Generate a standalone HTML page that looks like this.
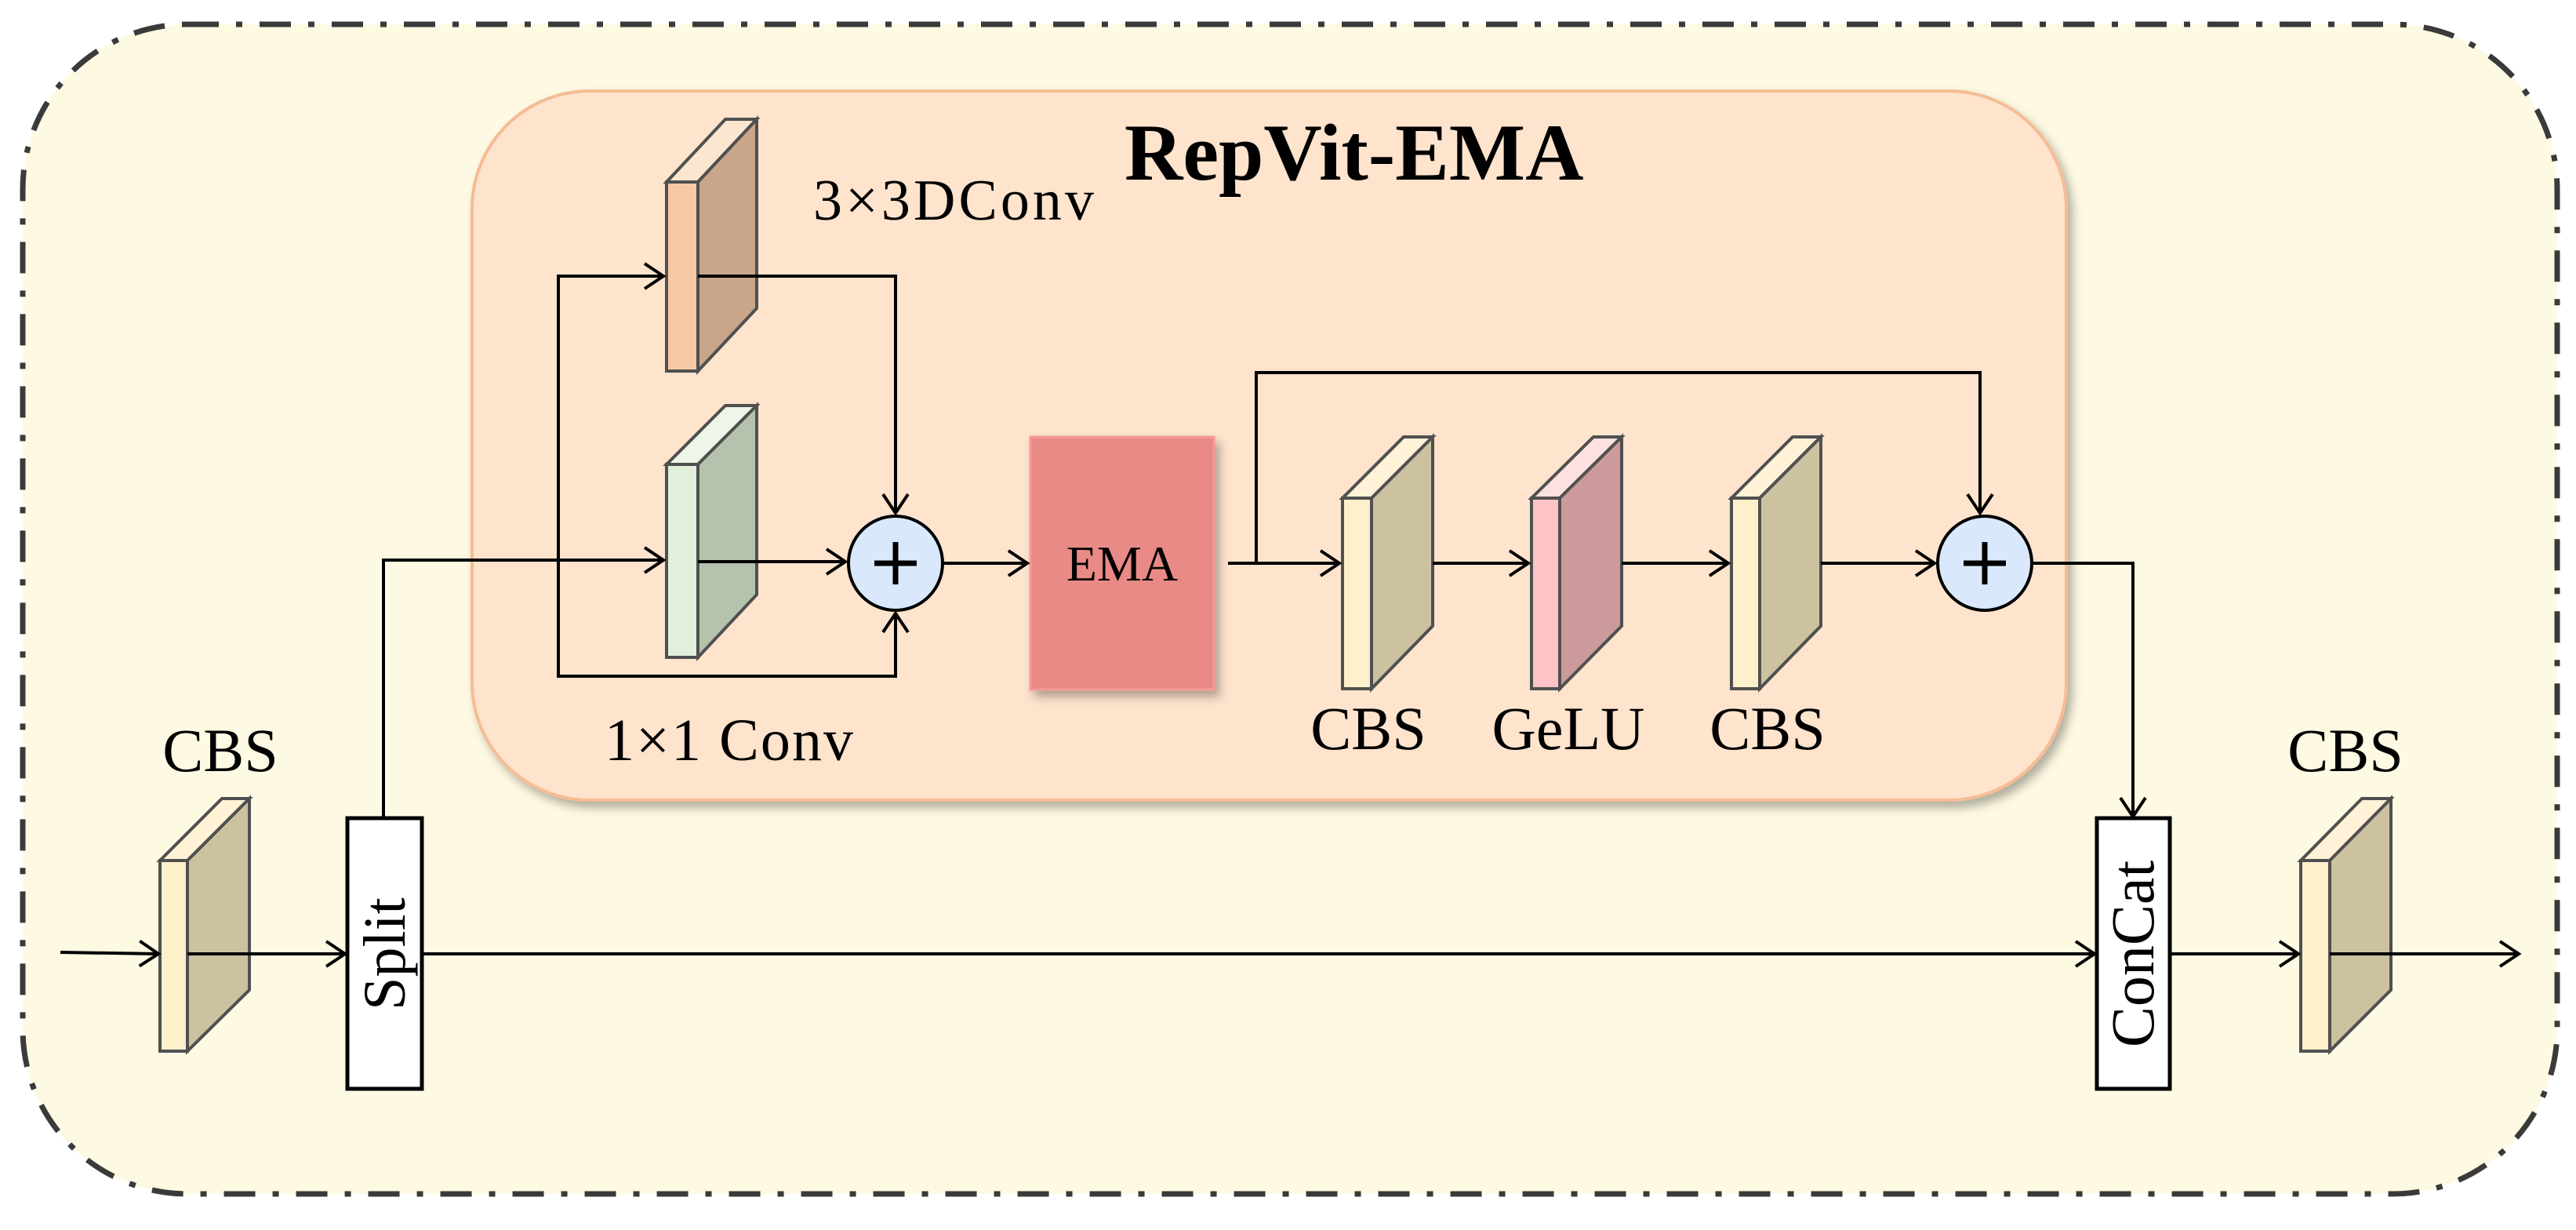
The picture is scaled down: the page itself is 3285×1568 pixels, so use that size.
<!DOCTYPE html>
<html><head><meta charset="utf-8"><style>
html,body{margin:0;padding:0;background:#fff;}
svg{display:block;}
text{font-family:"Liberation Serif",serif;fill:#000;}
</style></head><body>
<svg width="3285" height="1568" viewBox="0 0 3285 1568" xmlns="http://www.w3.org/2000/svg">
<defs>
<marker id="a" markerWidth="40" markerHeight="40" refX="30" refY="20" orient="auto" markerUnits="userSpaceOnUse">
<path d="M6,4 L30,20 L6,36" fill="none" stroke="#000" stroke-width="4"/>
</marker>
<filter id="sh" x="-10%" y="-10%" width="130%" height="130%"><feDropShadow dx="6" dy="8" stdDeviation="6" flood-color="#000" flood-opacity="0.3"/></filter>
</defs>
<rect x="0" y="0" width="3285" height="1568" fill="#fff"/>
<rect x="29" y="31" width="3232" height="1491" rx="210" ry="210" fill="#fef9e2" stroke="#3a3a3a" stroke-width="7" stroke-dasharray="40,22,8,22"/>
<rect x="602" y="116" width="2033" height="904" rx="150" ry="150" fill="#fee3cd" stroke="#f6bc94" stroke-width="4" filter="url(#sh)"/>
<text x="1434" y="229" font-size="103" font-weight="bold">RepVit-EMA</text>

<g stroke="#505050" stroke-width="4" stroke-linejoin="miter">
<polygon points="850,232 890,232 965,152 925,152" fill="#fbe6cf"/>
<polygon points="890,232 965,152 965,393 890,473" fill="#c9a58a"/>
<rect x="850" y="232" width="40" height="241" fill="#f8c9a5"/>
<polygon points="850,592 890,592 965,517 925,517" fill="#eef6ea"/>
<polygon points="890,592 965,517 965,758 890,838" fill="#b5c3ad"/>
<rect x="850" y="592" width="40" height="246" fill="#e1efdb"/>
<polygon points="1712,635 1749,635 1827,557 1790,557" fill="#fff2d6"/>
<polygon points="1749,635 1827,557 1827,798 1749,878" fill="#cdc2a0"/>
<rect x="1712" y="635" width="37" height="243" fill="#fff0cc"/>
<polygon points="1953,635 1989,635 2068,557 2032,557" fill="#fde0e0"/>
<polygon points="1989,635 2068,557 2068,798 1989,878" fill="#cc9a9a"/>
<rect x="1953" y="635" width="36" height="243" fill="#fcc4c4"/>
<polygon points="2208,635 2244,635 2322,557 2286,557" fill="#fff2d6"/>
<polygon points="2244,635 2322,557 2322,798 2244,878" fill="#cdc2a0"/>
<rect x="2208" y="635" width="36" height="243" fill="#fff0cc"/>
<polygon points="204,1097 239,1097 318,1018 283,1018" fill="#fff2d6"/>
<polygon points="239,1097 318,1018 318,1262 239,1340" fill="#cdc2a0"/>
<rect x="204" y="1097" width="35" height="243" fill="#fff0cc"/>
<polygon points="2934,1097 2971,1097 3049,1018 3012,1018" fill="#fff2d6"/>
<polygon points="2971,1097 3049,1018 3049,1262 2971,1340" fill="#cdc2a0"/>
<rect x="2934" y="1097" width="37" height="243" fill="#fff0cc"/>
</g>

<rect x="1314" y="557" width="234" height="322" fill="#e98a86" stroke="#f59a98" stroke-width="3" filter="url(#sh)"/>
<text x="1431" y="740" font-size="64" text-anchor="middle">EMA</text>

<g fill="none" stroke="#000" stroke-width="4">
<polyline points="489,1043 489,714 846,714" marker-end="url(#a)"/>
<polyline points="712,714 712,352 846,352" marker-end="url(#a)"/>
<polyline points="712,714 712,862 1142,862 1142,782" marker-end="url(#a)"/>
<polyline points="890,352 1142,352 1142,654" marker-end="url(#a)"/>
<line x1="890" y1="716" x2="1078" y2="716" marker-end="url(#a)"/>
<line x1="1204" y1="718" x2="1310" y2="718" marker-end="url(#a)"/>
<line x1="1566" y1="718" x2="1708" y2="718" marker-end="url(#a)"/>
<polyline points="1602,718 1602,475 2525,475 2525,654" marker-end="url(#a)"/>
<line x1="1827" y1="718" x2="1949" y2="718" marker-end="url(#a)"/>
<line x1="2068" y1="718" x2="2204" y2="718" marker-end="url(#a)"/>
<line x1="2322" y1="718" x2="2467" y2="718" marker-end="url(#a)"/>
<polyline points="2591,718 2720,718 2720,1041" marker-end="url(#a)"/>
<line x1="77" y1="1214" x2="202" y2="1216" marker-end="url(#a)"/>
<line x1="239" y1="1216" x2="440" y2="1216" marker-end="url(#a)"/>
<line x1="538" y1="1216" x2="2671" y2="1216" marker-end="url(#a)"/>
<line x1="2767" y1="1216" x2="2931" y2="1216" marker-end="url(#a)"/>
<line x1="2971" y1="1216" x2="3212" y2="1216" marker-end="url(#a)"/>
</g>

<g stroke="#000" stroke-width="4">
<circle cx="1142" cy="718" r="60" fill="#dae8fc"/>
<circle cx="2531" cy="718" r="60" fill="#dae8fc"/>
<line x1="1115" y1="718" x2="1169" y2="718" stroke-width="7"/>
<line x1="1142" y1="691" x2="1142" y2="745" stroke-width="7"/>
<line x1="2504" y1="718" x2="2558" y2="718" stroke-width="7"/>
<line x1="2531" y1="691" x2="2531" y2="745" stroke-width="7"/>
</g>

<rect x="443" y="1043" width="95" height="345" fill="#fff" stroke="#000" stroke-width="5"/>
<rect x="2674" y="1043" width="93" height="345" fill="#fff" stroke="#000" stroke-width="5"/>
<text transform="translate(516,1216) rotate(-90)" font-size="76" text-anchor="middle">Split</text>
<text transform="translate(2746,1216) rotate(-90)" font-size="78" text-anchor="middle">ConCat</text>

<text x="1037" y="280" font-size="74" textLength="358" lengthAdjust="spacing">3×3DConv</text>
<text x="771" y="969" font-size="76" textLength="317" lengthAdjust="spacing">1×1 Conv</text>
<text x="1745" y="955" font-size="78" text-anchor="middle">CBS</text>
<text x="2000" y="955" font-size="78" text-anchor="middle">GeLU</text>
<text x="2254" y="955" font-size="78" text-anchor="middle">CBS</text>
<text x="281" y="983" font-size="78" text-anchor="middle">CBS</text>
<text x="2991" y="983" font-size="78" text-anchor="middle">CBS</text>
</svg>
</body></html>
